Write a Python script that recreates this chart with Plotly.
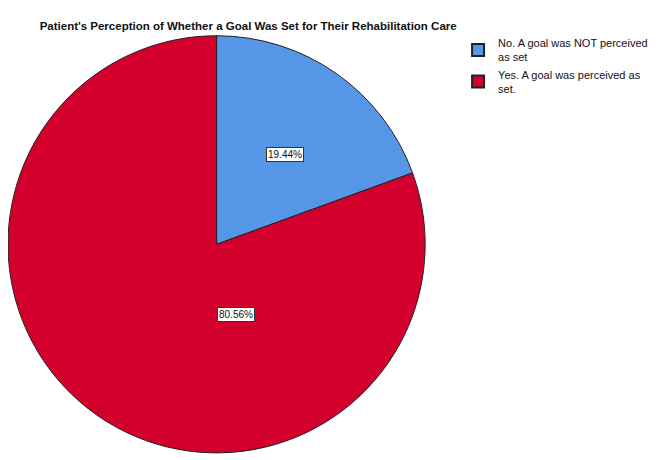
"""Patient goal-setting perception pie chart (Plotly)."""

import math

import plotly.graph_objects as go


LABELS = [
    "No. A goal was NOT perceived<br>as set",
    "Yes. A goal was perceived as<br>set.",
]
PERCENTS = [19.44, 80.56]
COLORS = ["#5596E6", "#D3002E"]

TITLE = "Patient's Perception of Whether a Goal Was Set for Their Rehabilitation Care"

# pie domain in paper coords
DOM_X = [0.0, 0.634]
DOM_Y = [0.0296, 0.943]

fig = go.Figure(
    go.Pie(
        labels=LABELS,
        values=PERCENTS,
        sort=False,
        direction="clockwise",
        rotation=0,
        marker=dict(colors=COLORS, line=dict(color="#222222", width=1)),
        textinfo="none",
        hoverinfo="label+percent",
        domain=dict(x=DOM_X, y=DOM_Y),
    )
)

# percentage labels with white boxes, placed inside each slice
cx = (DOM_X[0] + DOM_X[1]) / 2
cy = (DOM_Y[0] + DOM_Y[1]) / 2
r_px = 210
label_pos = [(0.565, None), (0.37, 180)]  # radial fraction, optional fixed angle
start = 0.0
for pct, (frac, fixed) in zip(PERCENTS, label_pos):
    mid = start + pct / 100 * 360 / 2
    start += pct / 100 * 360
    ang = math.radians(fixed if fixed is not None else mid)
    dx = math.sin(ang) * r_px * frac / 658
    dy = math.cos(ang) * r_px * frac / 460
    fig.add_annotation(
        x=cx + dx, y=cy + dy, xref="paper", yref="paper",
        text=f"{pct:.2f}%", showarrow=False,
        font=dict(family="Arial", size=10, color="#111111"),
        bgcolor="white", bordercolor="#333333", borderwidth=1, borderpad=1,
    )

fig.update_layout(
    title=dict(
        text=f"<b>{TITLE}</b>", x=0.365, xanchor="center", y=0.96, yanchor="middle",
        font=dict(family="Arial", size=11.5, color="#111111"),
    ),
    legend=dict(
        x=0.684, y=0.954, xanchor="left", yanchor="top",
        font=dict(family="Arial", size=11, color="#111111"),
        itemsizing="constant", tracegroupgap=0,
    ),
    width=658,
    height=460,
    margin=dict(l=0, r=0, t=0, b=0),
    paper_bgcolor="white",
    plot_bgcolor="white",
)

fig.write_html("out.html")
